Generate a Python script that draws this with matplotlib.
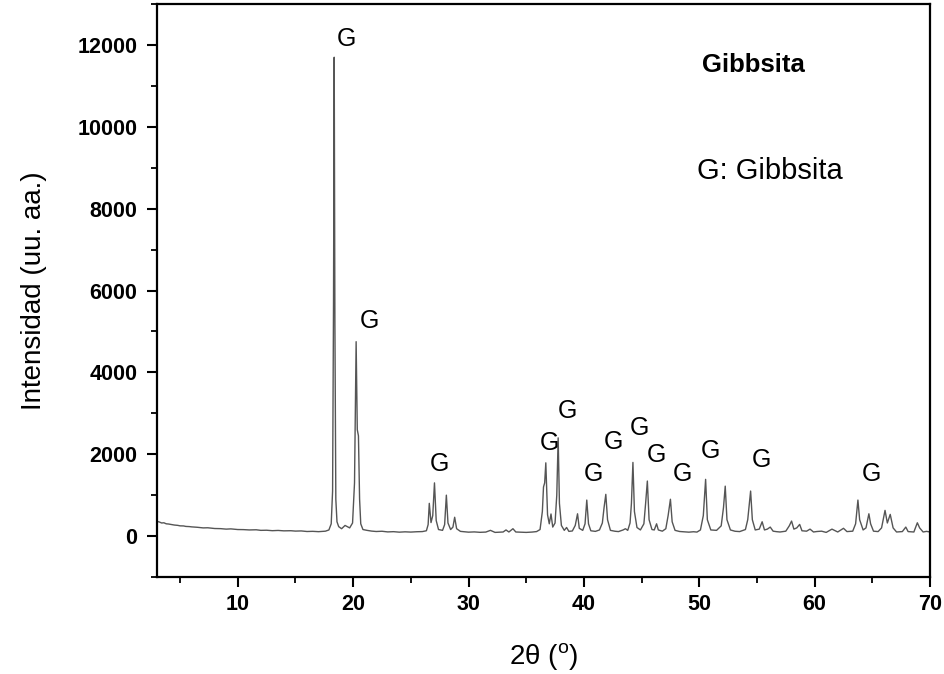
import matplotlib
matplotlib.use("Agg")
import matplotlib.pyplot as plt
from matplotlib.ticker import MultipleLocator

# ---- data (2theta in degrees, intensity in a.u.) ----
two_theta = [
    3.0, 3.2, 3.4, 3.6, 3.8, 4.0, 4.3, 4.5, 4.8, 5.0, 5.3, 5.5, 5.8, 6.0,
    6.5, 7.0, 7.4, 8.0, 8.5, 9.0, 9.4, 10.0, 10.5, 11.0, 11.6, 12.0, 12.5,
    13.0, 13.5, 14.0, 14.6, 15.0, 15.5, 16.0, 16.5, 17.0, 17.6, 17.9, 18.1,
    18.22, 18.3, 18.36, 18.42, 18.5, 18.6, 18.75, 19.0, 19.3, 19.7, 19.95,
    20.12, 20.26, 20.36, 20.46, 20.56, 20.66, 20.85, 21.2, 21.6, 22.0, 22.5,
    23.0, 23.5, 24.0, 24.5, 25.0, 25.5, 26.0, 26.35, 26.5, 26.6, 26.75,
    26.9, 27.05, 27.2, 27.4, 27.75, 27.93, 28.08, 28.22, 28.45, 28.65, 28.8,
    28.97, 29.3, 29.7, 30.0, 30.5, 31.0, 31.5, 31.9, 32.3, 32.7, 33.0, 33.25,
    33.5, 33.85, 34.1, 34.5, 35.0, 35.5, 35.9, 36.2, 36.4, 36.5, 36.6, 36.7,
    36.85, 37.0, 37.15, 37.3, 37.5, 37.65, 37.77, 37.88, 38.05, 38.3, 38.5,
    38.7, 39.0, 39.25, 39.45, 39.6, 39.9, 40.1, 40.25, 40.4, 40.6, 41.0,
    41.35, 41.6, 41.75, 41.9, 42.05, 42.3, 42.7, 43.0, 43.4, 43.6, 43.8,
    44.0, 44.12, 44.25, 44.38, 44.6, 44.9, 45.2, 45.35, 45.5, 45.65, 45.9,
    46.1, 46.3, 46.45, 46.8, 47.1, 47.3, 47.5, 47.65, 47.9, 48.3, 48.7,
    49.1, 49.5, 49.8, 50.1, 50.35, 50.55, 50.7, 51.0, 51.5, 51.9, 52.1,
    52.25, 52.4, 52.7, 53.1, 53.5, 54.0, 54.2, 54.45, 54.6, 54.85, 55.2,
    55.45, 55.65, 55.9, 56.15, 56.4, 56.7, 57.0, 57.5, 57.8, 58.0, 58.2,
    58.45, 58.7, 58.9, 59.3, 59.6, 59.9, 60.2, 60.6, 61.0, 61.5, 62.0, 62.5,
    62.8, 63.3, 63.55, 63.75, 63.9, 64.2, 64.45, 64.7, 64.85, 65.1, 65.5,
    65.8, 66.1, 66.3, 66.55, 66.8, 67.1, 67.6, 67.9, 68.1, 68.6, 68.9, 69.1,
    69.4, 69.7, 70.0,
]
intensity = [
    360, 345, 320, 325, 300, 295, 280, 270, 262, 250, 248, 236, 232, 225,
    215, 200, 203, 185, 182, 170, 176, 160, 158, 150, 154, 140, 143,
    132, 138, 128, 131, 122, 126, 112, 116, 108, 120, 150, 300,
    1100, 5700, 11700, 5200, 900, 350, 230, 180, 260, 200, 320,
    1300, 4750, 2600, 2450, 900, 300, 160, 140, 122, 112, 118,
    102, 108, 96, 104, 98, 106, 110, 130, 280, 800, 330,
    500, 1300, 380, 160, 140, 280, 1000, 320, 160, 220, 460,
    180, 115, 104, 96, 102, 92, 98, 140, 90, 96, 100, 150,
    100, 180, 100, 95, 90, 98, 110, 160, 600, 1200, 1300, 1790,
    520, 300, 540, 220, 320, 1000, 2400, 800, 260, 140, 210,
    115, 125, 260, 545, 190, 140, 300, 880, 300, 130, 115,
    150, 320, 700, 1020, 400, 140, 118, 110, 150, 180, 140,
    320, 800, 1800, 600, 210, 150, 300, 800, 1345, 400, 160,
    150, 300, 150, 120, 180, 500, 900, 350, 140, 112, 104,
    96, 106, 98, 150, 500, 1386, 400, 150, 140, 250, 700,
    1220, 400, 150, 118, 110, 160, 400, 1100, 400, 150, 170,
    350, 150, 170, 220, 120, 108, 100, 120, 250, 367, 170,
    200, 285, 130, 120, 170, 100, 112, 120, 90, 170, 100, 190,
    110, 120, 300, 880, 400, 150, 200, 545, 300, 120, 110,
    200, 628, 320, 530, 200, 100, 110, 220, 110, 100, 325, 200,
    100, 115, 100,
]

# peak labels "G"
label_x = [19.45, 21.45, 27.5, 37.05, 38.6, 40.8, 42.55, 44.85, 46.3, 48.5,
           51.0, 55.35, 64.9]
label_y = [12150, 5250, 1760, 2280, 3060, 1520, 2290, 2640, 1980, 1520,
           2080, 1860, 1520]

fam = ["Liberation Sans", "DejaVu Sans"]
plt.rcParams["font.family"] = fam

fig = plt.figure(figsize=(9.44, 6.74), dpi=100)
ax = fig.add_axes([0.1663, 0.1439, 0.8189, 0.8501])

ax.plot(two_theta, intensity, color="#555555", lw=1.0)

for lx, ly in zip(label_x, label_y):
    ax.text(lx, ly, "G", fontsize=18, ha="center", va="center", color="black")

ax.text(0.772, 0.893, "Gibbsita", transform=ax.transAxes, fontsize=18.5,
        fontweight="bold", ha="center", va="center")
ax.text(0.793, 0.708, "G: Gibbsita", transform=ax.transAxes, fontsize=21,
        ha="center", va="center")

ax.set_xlim(3, 70)
ax.set_ylim(-1000, 13000)
ax.xaxis.set_major_locator(MultipleLocator(10))
ax.xaxis.set_minor_locator(MultipleLocator(5))
ax.yaxis.set_major_locator(MultipleLocator(2000))
ax.yaxis.set_minor_locator(MultipleLocator(1000))

ax.tick_params(which="major", direction="out", length=7, width=1.5,
               labelsize=15.5)
ax.tick_params(axis="y", which="major", pad=7)
ax.tick_params(axis="x", which="major", pad=5)
ax.tick_params(which="minor", direction="out", length=4, width=1.3)
for lab in ax.get_xticklabels() + ax.get_yticklabels():
    lab.set_fontweight("bold")
for sp in ax.spines.values():
    sp.set_linewidth(1.6)

ax.set_xlabel("2θ ($^\\mathregular{o}$)", fontsize=20, labelpad=19)
ax.set_ylabel("Intensidad (uu. aa.)", fontsize=20, labelpad=22)

fig.savefig("out.png", dpi=100)
